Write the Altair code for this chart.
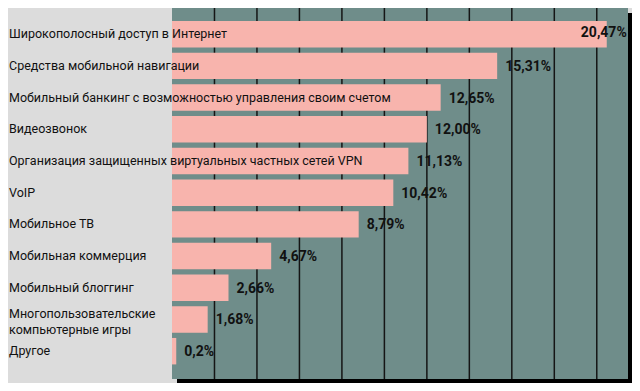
import altair as alt
import pandas as pd

categories = [
    "Широкополосный доступ в Интернет",
    "Средства мобильной навигации",
    "Мобильный банкинг с возможностью управления своим счетом",
    "Видеозвонок",
    "Организация защищенных виртуальных частных сетей VPN",
    "VoIP",
    "Мобильное ТВ",
    "Мобильная коммерция",
    "Мобильный блоггинг",
    "Многопользовательские\nкомпьютерные игры",
    "Другое",
]
values = [20.47, 15.31, 12.65, 12.00, 11.13, 10.42, 8.79, 4.67, 2.66, 1.68, 0.2]
value_labels = ["20,47%", "15,31%", "12,65%", "12,00%", "11,13%", "10,42%",
                "8,79%", "4,67%", "2,66%", "1,68%", "0,2%"]
grid_values = [2, 4, 6, 8, 10, 12, 14, 16, 18, 20]

W, H = 456, 371
BG = "#dcdcdc"
TEAL = "#6f8d8a"
PINK = "#f8b4ad"
FONT = "Roboto"

df = pd.DataFrame({"cat": categories, "v": values, "lab": value_labels})
df["multi"] = df["cat"].str.contains("\n")
grid_df = pd.DataFrame({"g": grid_values})
one = pd.DataFrame({"a": [0]})

xscale = alt.Scale(domain=[0, 21.47], nice=False, zero=True)
yscale = alt.Scale(domain=categories, paddingInner=0.165, paddingOuter=0.434, align=0.47)
Y = alt.Y("cat:N", scale=yscale, axis=None, sort=categories)

shadow = alt.Chart(one).mark_rect(color="#000000").encode(
    x=alt.value(5), x2=alt.value(W + 4), y=alt.value(5), y2=alt.value(H + 4)
)
panel = alt.Chart(one).mark_rect(color=TEAL).encode(
    x=alt.value(0), x2=alt.value(W), y=alt.value(0), y2=alt.value(H)
)
grid = alt.Chart(grid_df).mark_rule(color="#151515", strokeWidth=1.5).encode(
    x=alt.X("g:Q", scale=xscale, axis=None),
    y=alt.value(0), y2=alt.value(H),
)
bars = alt.Chart(df).mark_bar(color=PINK).encode(
    x=alt.X("v:Q", scale=xscale, axis=None),
    y=Y,
)
cat_text = alt.Chart(df).transform_filter("!datum.multi").mark_text(
    align="left", baseline="middle", font=FONT, fontSize=12.5, color="#111111",
).encode(
    x=alt.value(-163),
    y=Y,
    text="cat:N",
)
cat_text_multi = alt.Chart(df).transform_filter("datum.multi").mark_text(
    align="left", baseline="middle", font=FONT, fontSize=12.5, color="#111111",
    lineBreak="\n", lineHeight=16, dy=-5,
).encode(
    x=alt.value(-163),
    y=Y,
    text="cat:N",
)
val_text = alt.Chart(df).transform_filter("datum.v < 20").mark_text(
    align="left", baseline="middle", dx=8, dy=1, font=FONT, fontSize=14,
    fontWeight="bold", color="#111111",
).encode(
    x=alt.X("v:Q", scale=xscale, axis=None),
    y=Y,
    text="lab:N",
)
top_text = alt.Chart(df).transform_filter("datum.v >= 20").mark_text(
    align="right", baseline="middle", dx=20, dy=-1, font=FONT, fontSize=14,
    fontWeight="bold", color="#111111",
).encode(
    x=alt.X("v:Q", scale=xscale, axis=None),
    y=Y,
    text="lab:N",
)

chart = alt.layer(shadow, panel, grid, bars, cat_text, cat_text_multi, val_text, top_text).properties(
    width=W, height=H,
    autosize=alt.AutoSizeParams(type="none"),
    padding={"left": 164, "top": 0, "right": 4, "bottom": 4},
    background=BG,
).configure_view(stroke=None)

chart.save("out.html", embed_options={"renderer": "svg", "actions": False})
